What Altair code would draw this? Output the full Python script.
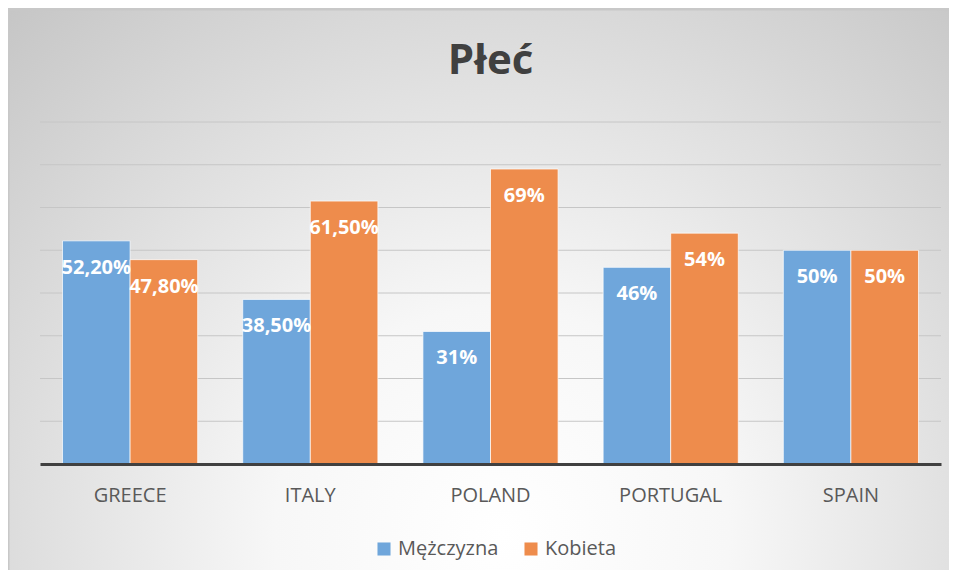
import altair as alt
import pandas as pd

countries = ["GREECE", "ITALY", "POLAND", "PORTUGAL", "SPAIN"]
series = ["Mężczyzna", "Kobieta"]
men = [52.2, 38.5, 31, 46, 50]
women = [47.8, 61.5, 69, 54, 50]
men_labels = ["52,20%", "38,50%", "31%", "46%", "50%"]
women_labels = ["47,80%", "61,50%", "69%", "54%", "50%"]
grid_values = [10, 20, 30, 40, 50, 60, 70, 80]
colors = ["#6FA6DB", "#EE8C4C"]

rows = []
for i, c in enumerate(countries):
    rows.append({"country": c, "series": series[0], "value": men[i], "label": men_labels[i]})
    rows.append({"country": c, "series": series[1], "value": women[i], "label": women_labels[i]})
df = pd.DataFrame(rows)
grid_df = pd.DataFrame({"g": grid_values})

W, H = 901, 342
FONT = "Open Sans"

y_scale = alt.Scale(domain=[0, 80], nice=False)

bg = alt.Chart(pd.DataFrame({"a": [0]})).mark_rect(
    fill=alt.Gradient(
        gradient="radial",
        stops=[alt.GradientStop(offset=0, color="#ffffff"),
               alt.GradientStop(offset=0.3, color="#f7f7f7"),
               alt.GradientStop(offset=1, color="#c2c2c2")],
        x1=0.52, y1=0.75, x2=0.52, y2=0.75, r1=0, r2=0.8,
    ),
    stroke="#c8c8c8", strokeWidth=1,
).encode(
    x=alt.value(-31), x2=alt.value(W + 16),
    y=alt.value(-112), y2=alt.value(H + 120),
)

grid = alt.Chart(grid_df).mark_rule(color="#c6c6c6", strokeWidth=1).encode(
    y=alt.Y("g:Q", scale=y_scale, axis=None),
)

base = alt.Chart(df).encode(
    x=alt.X("country:N", sort=countries,
            scale=alt.Scale(paddingInner=0.25, paddingOuter=0.125),
            axis=alt.Axis(title=None, labelAngle=0, ticks=False, domain=True,
                          domainColor="#404040", domainWidth=3, labelFont=FONT,
                          labelFontSize=20, labelColor="#595959", labelPadding=21,
                          zindex=2, grid=False)),
    xOffset=alt.XOffset("series:N", sort=series),
)

bars = base.mark_bar(stroke="#ffffff", strokeWidth=1, strokeOpacity=0.7).encode(
    y=alt.Y("value:Q", scale=y_scale, axis=None),
    color=alt.Color("series:N", sort=series,
                    scale=alt.Scale(domain=series, range=colors),
                    legend=alt.Legend(title=None, orient="none", legendX=334, legendY=417,
                                      direction="horizontal",
                                      symbolType="square", symbolSize=170,
                                      symbolStrokeWidth=0, labelFont=FONT,
                                      labelFontSize=20, labelColor="#595959",
                                      columnPadding=22, labelOffset=4)),
)

labels = base.mark_text(color="white", font=FONT, fontSize=20, fontWeight="bold",
                        baseline="middle", dy=27).encode(
    y=alt.Y("value:Q", scale=y_scale, axis=None),
    text="label:N",
)

chart = alt.layer(bg, grid, bars, labels).properties(
    width=W, height=H,
    title=alt.Title("Płeć", fontSize=42, fontWeight="bold", color="#404040",
                    font=FONT, anchor="middle", frame="group", baseline="alphabetic",
                    offset=-106),
    autosize=alt.AutoSizeParams(type="none"),
    padding={"left": 32, "top": 114, "right": 8, "bottom": 106},
).configure_view(stroke=None).configure(background="#c8c8c8")

chart.save("out.html", embed_options={"renderer": "svg", "actions": False})
